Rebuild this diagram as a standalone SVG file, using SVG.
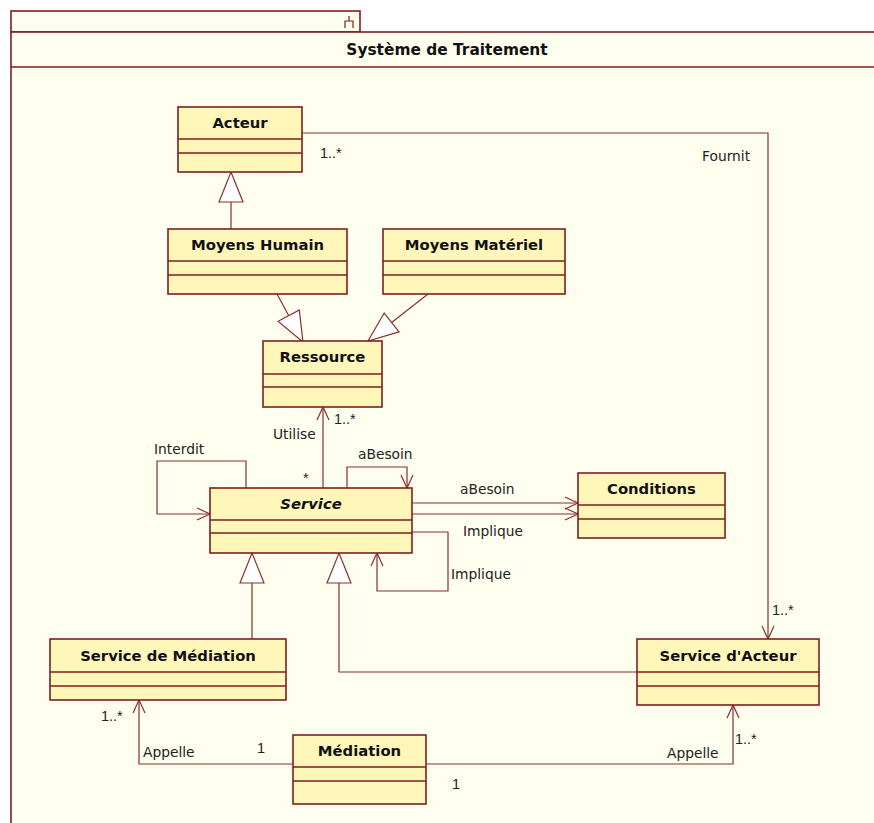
<svg xmlns="http://www.w3.org/2000/svg" width="874" height="823" viewBox="0 0 874 823">
  <style>
    .pkg { fill: #FFFFF0; stroke: #7E1E1E; stroke-width: 1.6; }
    .cls rect { fill: #FFF7BA; stroke: #7E1E1E; stroke-width: 1.6; }
    .cls line { stroke: #7E1E1E; stroke-width: 1.6; }
    .name { font-family: "DejaVu Sans", Verdana, sans-serif; font-weight: bold; font-size: 14.8px; fill: #111; text-anchor: middle; }
    .title { font-size: 15.4px; }
    .lbl { font-family: "DejaVu Sans", Verdana, sans-serif; font-size: 13.8px; fill: #222; }
    .mult { font-family: "Liberation Sans", Arial, sans-serif; font-size: 14.5px; fill: #222; }
    .edge { fill: none; stroke: #8A2E2E; stroke-width: 1.2; }
    .assoc { marker-end: url(#open); }
    .gen { marker-end: url(#tri); }
  </style>
  <defs>
    <marker id="open" markerUnits="userSpaceOnUse" markerWidth="16" markerHeight="14" refX="14" refY="6.5" orient="auto" overflow="visible">
      <path d="M1,0.5 L14,6.5 L1,12.5" fill="none" stroke="#8A2E2E" stroke-width="1.2"/>
    </marker>
    <marker id="tri" markerUnits="userSpaceOnUse" markerWidth="32" markerHeight="26" refX="30" refY="12" orient="auto" overflow="visible">
      <path d="M0,0 L30,12 L0,24 Z" fill="#FFFFFF" stroke="#8A2E2E" stroke-width="1.2"/>
    </marker>
  </defs>

  <rect width="874" height="823" fill="#FFFFFF"/>

  <!-- package frame: tab, title band, body -->
  <g id="package">
    <rect class="pkg" x="11" y="11" width="349" height="21"/>
    <rect class="pkg" x="11" y="32" width="900" height="900"/>
    <line x1="11" y1="67" x2="911" y2="67" stroke="#7E1E1E" stroke-width="1.6"/>
    <path d="M349,16 V21 M345,28 V21 H353 V28" fill="none" stroke="#7E1E1E" stroke-width="1.2"/>
    <text class="name title" x="447" y="55">Système de Traitement</text>
  </g>

  <!-- connectors -->
  <g id="connectors">
    <!-- generalizations -->
    <path class="edge gen" d="M231,229 V172"/>
    <path class="edge gen" d="M277,294 L303,342"/>
    <path class="edge gen" d="M428,294 L368,341"/>
    <path class="edge gen" d="M252,639 V553"/>
    <path class="edge gen" d="M637,672 H339 V553"/>

    <!-- Fournit -->
    <path class="edge assoc" d="M302,133 H768 V639"/>
    <text class="mult" x="320" y="158">1..*</text>
    <text class="lbl" x="702" y="161">Fournit</text>
    <text class="mult" x="772" y="615">1..*</text>

    <!-- Utilise -->
    <path class="edge assoc" d="M323,488 V407"/>
    <text class="lbl" x="273" y="439">Utilise</text>
    <text class="mult" x="334" y="424">1..*</text>
    <text class="mult" x="303" y="483">*</text>

    <!-- Interdit (self) -->
    <path class="edge assoc" d="M246,488 V461 H157 V514 H210"/>
    <text class="lbl" x="154" y="454">Interdit</text>

    <!-- aBesoin (self) -->
    <path class="edge assoc" d="M347,488 V467 H407 V488"/>
    <text class="lbl" x="358" y="459">aBesoin</text>

    <!-- aBesoin / Implique towards Conditions -->
    <path class="edge assoc" d="M412,503 H578"/>
    <text class="lbl" x="460" y="494">aBesoin</text>
    <path class="edge assoc" d="M412,514 H578"/>
    <text class="lbl" x="463" y="536">Implique</text>

    <!-- Implique (self) -->
    <path class="edge assoc" d="M412,532 H448 V591 H377 V553"/>
    <text class="lbl" x="451" y="579">Implique</text>

    <!-- Appelle from Médiation -->
    <path class="edge assoc" d="M293,764 H139 V700"/>
    <text class="mult" x="101" y="721">1..*</text>
    <text class="lbl" x="143" y="757">Appelle</text>
    <text class="mult" x="257" y="753">1</text>

    <path class="edge assoc" d="M426,764 H733 V705"/>
    <text class="lbl" x="667" y="758">Appelle</text>
    <text class="mult" x="735" y="744">1..*</text>
    <text class="mult" x="452" y="789">1</text>
  </g>

  <!-- classes -->
  <g id="acteur" class="cls">
    <rect x="178" y="107" width="124" height="65"/>
    <line x1="178" y1="139" x2="302" y2="139"/>
    <line x1="178" y1="153" x2="302" y2="153"/>
    <text class="name" x="240" y="128">Acteur</text>
  </g>

  <g id="moyens-humain" class="cls">
    <rect x="168" y="229" width="179" height="65"/>
    <line x1="168" y1="261" x2="347" y2="261"/>
    <line x1="168" y1="275" x2="347" y2="275"/>
    <text class="name" x="257.5" y="250">Moyens Humain</text>
  </g>

  <g id="moyens-materiel" class="cls">
    <rect x="383" y="229" width="182" height="65"/>
    <line x1="383" y1="261" x2="565" y2="261"/>
    <line x1="383" y1="275" x2="565" y2="275"/>
    <text class="name" x="474" y="250">Moyens Matériel</text>
  </g>

  <g id="ressource" class="cls">
    <rect x="263" y="341" width="119" height="66"/>
    <line x1="263" y1="374" x2="382" y2="374"/>
    <line x1="263" y1="387" x2="382" y2="387"/>
    <text class="name" x="322.5" y="362">Ressource</text>
  </g>

  <g id="service" class="cls">
    <rect x="210" y="488" width="202" height="65"/>
    <line x1="210" y1="520" x2="412" y2="520"/>
    <line x1="210" y1="533" x2="412" y2="533"/>
    <text class="name" x="311" y="509" font-style="italic">Service</text>
  </g>

  <g id="conditions" class="cls">
    <rect x="578" y="473" width="147" height="65"/>
    <line x1="578" y1="505" x2="725" y2="505"/>
    <line x1="578" y1="519" x2="725" y2="519"/>
    <text class="name" x="651.5" y="494">Conditions</text>
  </g>

  <g id="service-mediation" class="cls">
    <rect x="50" y="639" width="236" height="61"/>
    <line x1="50" y1="672" x2="286" y2="672"/>
    <line x1="50" y1="686" x2="286" y2="686"/>
    <text class="name" x="168" y="661">Service de Médiation</text>
  </g>

  <g id="service-acteur" class="cls">
    <rect x="637" y="639" width="182" height="66"/>
    <line x1="637" y1="672" x2="819" y2="672"/>
    <line x1="637" y1="686" x2="819" y2="686"/>
    <text class="name" x="728" y="661">Service d'Acteur</text>
  </g>

  <g id="mediation" class="cls">
    <rect x="293" y="735" width="133" height="69"/>
    <line x1="293" y1="767" x2="426" y2="767"/>
    <line x1="293" y1="781" x2="426" y2="781"/>
    <text class="name" x="359.5" y="756">Médiation</text>
  </g>
</svg>
